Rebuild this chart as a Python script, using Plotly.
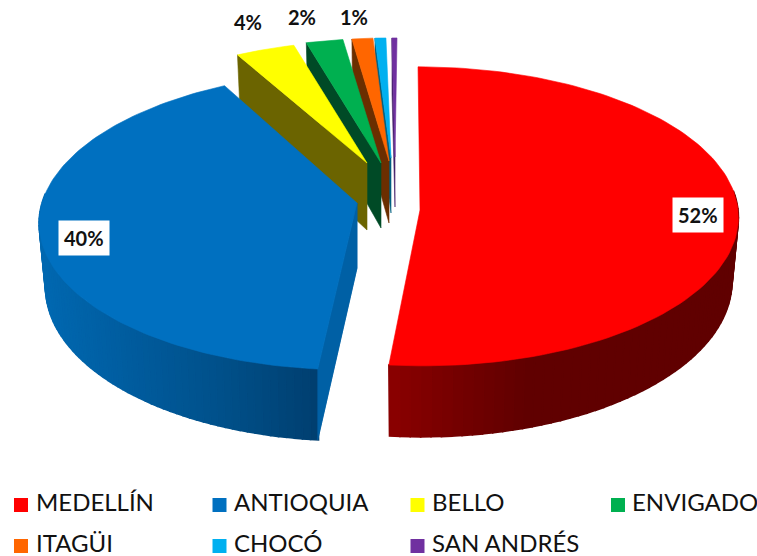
import numpy as np
import plotly.graph_objects as go

categories = ["MEDELLÍN", "ANTIOQUIA", "BELLO", "ENVIGADO", "ITAGÜI", "CHOCÓ", "SAN ANDRÉS"]
values = [51.5, 40.5, 3.6, 2.2, 1.25, 0.65, 0.3]
data_labels = ["52%", "40%", "4%", "2%", "1%", "", ""]
top_colors = ["#ff0000", "#0070c0", "#ffff00", "#00b050", "#ff6600", "#00b0f0", "#7030a0"]
face_colors = ["#8b0000", "#0060a5", "#6b6400", "#004a26", "#6b2e00", "#005f80", "#44206a"]

# pie projection (pixel space of the 757x556 frame)
A, B, P = 316.0, 147.5, 0.116
ring_x = [420, 358, 366, 380, 389, 391, 397]
ring_y = [199, 203, 164, 164, 163.5, 163.5, 163.5]
ring_s = [1.0, 1.0, 0.93, 0.95, 0.95, 0.95, 0.95]
ring_skew = [-0.015, 0.04, 0, 0, 0, 0, 0]
apex_x = [420, 357, 367, 381, 389, 391, 395]
apex_y = [210, 203, 163, 163, 161, 158, 157]
wall_outer = 71.0
wall_shrink = 0.98
wall_apex = [66, 65, 67, 65, 62, 55, 50]

label_x = [698, 83.5, 248, 302, 354]
label_y = [215, 238, 22, 17, 17]

legend_mark_x = [21, 219.5, 417.5, 618, 21, 219.5, 417.5]
legend_text_x = [36, 234, 432, 632, 36, 234, 432]
legend_y = [505, 505, 505, 505, 546, 546, 546]

red_wall = [(389, "#8b0000"), (460, "#740000"), (530, "#600000"), (737, "#600000")]
blue_wall = [(45, "#0068b0"), (130, "#005c9e"), (230, "#004f88"), (317, "#003f70")]


def hex_rgb(c):
    return [int(c[i:i + 2], 16) for i in (1, 3, 5)]


def shade(stops, x):
    xs = [s[0] for s in stops]
    rgb = [np.interp(x, xs, [hex_rgb(s[1])[k] for s in stops]) for k in range(3)]
    return "rgb(%d,%d,%d)" % tuple(rgb)


def outer(i, deg):
    t = np.radians(deg)
    d = 1 + P * np.cos(t)
    s = ring_s[i]
    dy = -s * B * np.cos(t) / d
    return ring_x[i] + s * A * np.sin(t) / d - ring_skew[i] * dy, ring_y[i] + dy


def height(deg):
    return wall_outer * (1 - P) / (1 + P * np.cos(np.radians(deg)))


def lower_x(i, x):
    return ring_x[i] + (x - ring_x[i]) * wall_shrink


fig = go.Figure()


def poly(xs, ys, color, lw=0.6):
    fig.add_trace(go.Scatter(x=list(xs) + [xs[0]], y=list(ys) + [ys[0]], mode="lines", fill="toself",
                             fillcolor=color, line=dict(color=color, width=lw),
                             hoverinfo="skip", showlegend=False))


edges = np.concatenate([[0], np.cumsum(values)]) / sum(values) * 360
order = [6, 5, 4, 3, 2, 1, 0]
for i in order:
    a0, a1 = edges[i], edges[i + 1]
    face_deg = a0
    ox, oy = outer(i, face_deg)
    lx = lower_x(i, ox) if i > 1 else ox
    face_x = [apex_x[i], ox, lx, apex_x[i]]
    face_y = [apex_y[i], oy, oy + height(face_deg), apex_y[i] + wall_apex[i]]
    if i != 0:
        poly(face_x, face_y, face_colors[i])
    if i < 2:
        stops = red_wall if i == 0 else blue_wall
        grid = np.linspace(a0, a1, 110)
        grid = grid[np.cos(np.radians(grid)) < 0.08]
        for g0, g1 in zip(grid[:-1], grid[1:]):
            x0, y0 = outer(i, g0)
            x1, y1 = outer(i, g1)
            poly([x0, x1, lower_x(i, x1), lower_x(i, x0)],
                 [y0, y1, y1 + height(g1), y0 + height(g0)],
                 shade(stops, (x0 + x1) / 2), lw=1.6)
        if i == 1:
            poly(face_x, face_y, face_colors[i])
    grid = np.linspace(a0, a1, 120)
    px, py = outer(i, grid)
    poly([apex_x[i]] + list(px), [apex_y[i]] + list(py), top_colors[i])

# legend
for c, col, mx, tx, ly in zip(categories, top_colors, legend_mark_x, legend_text_x, legend_y):
    fig.add_trace(go.Scatter(x=[mx], y=[ly], mode="markers",
                             marker=dict(symbol="square", size=14, color=col, line=dict(width=0)),
                             hoverinfo="skip", showlegend=False))
    fig.add_trace(go.Scatter(x=[tx], y=[ly], mode="text", text=[c], textposition="middle right",
                             textfont=dict(family="Lato, Carlito, sans-serif", size=24, color="#111111"),
                             hoverinfo="skip", showlegend=False))

# data labels
for n, (t, lx, ly) in enumerate(zip(data_labels, label_x, label_y)):
    boxed = n < 2
    fig.add_annotation(x=lx, y=ly, text="<b>%s</b>" % t, showarrow=False,
                       font=dict(family="Lato, Carlito, sans-serif", size=20, color="#111111"),
                       bgcolor="#ffffff" if boxed else "rgba(0,0,0,0)", borderpad=5 if boxed else 0)

fig.update_layout(width=757, height=556, margin=dict(l=0, r=0, t=0, b=0),
                  paper_bgcolor="#ffffff", plot_bgcolor="#ffffff", showlegend=False,
                  xaxis=dict(range=[0, 757], visible=False, fixedrange=True),
                  yaxis=dict(range=[556, 0], visible=False, fixedrange=True))
fig.write_html("out.html", config={"displayModeBar": False},
               post_script="document.body.style.margin='0';document.body.style.overflow='hidden';")
